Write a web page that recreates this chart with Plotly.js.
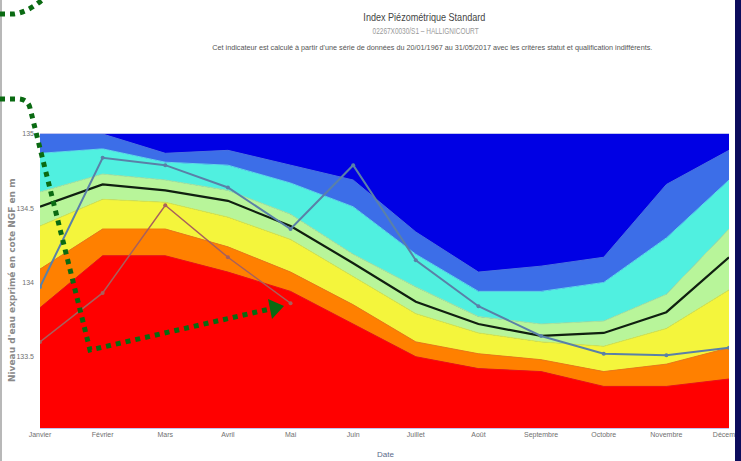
<!DOCTYPE html>
<html>
<head>
<meta charset="utf-8">
<script src="https://cdn.plot.ly/plotly-3.0.1.min.js"></script>
<style>
html,body{margin:0;padding:0;background:#fff;}
#wrap{position:relative;width:741px;height:461px;overflow:hidden;}
#chart{position:absolute;left:0;top:0;width:741px;height:461px;}
#lborder{position:absolute;left:0;top:0;width:2px;height:461px;background:#b8b8b8;}
#rborder{position:absolute;left:735px;top:0;width:6px;height:461px;background:#0c0c5c;}
#overlay{position:absolute;left:0;top:0;}
</style>
</head>
<body>
<div id="wrap">
<div id="chart"></div>
<div id="lborder"></div>
<div id="rborder"></div>
<svg id="overlay" width="741" height="461">
  <path d="M0,14 L14,14 Q28,12 42,0" fill="none" stroke="#0a6a12" stroke-width="5" stroke-dasharray="5,5"/>
  <path d="M0,99 L20,99 Q28,100 30,108 L90,350 L270,309" fill="none" stroke="#0a6a12" stroke-width="5" stroke-dasharray="5,5"/>
  <polygon points="284,306 268,299 272,319" fill="#0a6a12"/>
</svg>
</div>
<script>
const months = ["Janvier","Février","Mars","Avril","Mai","Juin","Juillet","Août","Septembre","Octobre","Novembre","Décembre"];
// band boundaries (level in m NGF)
const bndVeryHigh = [135.10, 135.00, 134.87, 134.89, 134.79, 134.69, 134.34, 134.07, 134.11, 134.17, 134.66, 134.89];
const bndHigh     = [134.87, 134.90, 134.81, 134.79, 134.67, 134.51, 134.19, 133.94, 133.94, 134.00, 134.30, 134.69];
const bndModHigh  = [134.61, 134.73, 134.69, 134.62, 134.46, 134.19, 133.97, 133.77, 133.72, 133.74, 133.92, 134.36];
const median      = [134.51, 134.66, 134.62, 134.55, 134.38, 134.13, 133.87, 133.72, 133.64, 133.66, 133.80, 134.17];
const bndModLow   = [134.38, 134.56, 134.54, 134.44, 134.29, 134.04, 133.79, 133.66, 133.60, 133.57, 133.69, 133.95];
const bndLow      = [134.09, 134.36, 134.36, 134.24, 134.07, 133.85, 133.60, 133.52, 133.48, 133.40, 133.45, 133.56];
const bndVeryLow  = [133.83, 134.18, 134.18, 134.07, 133.94, 133.72, 133.50, 133.42, 133.40, 133.30, 133.30, 133.35];
const level2016   = [133.97, 134.84, 134.79, 134.64, 134.36, 134.79, 134.15, 133.84, 133.64, 133.52, 133.51, 133.56];
const months2017  = ["Janvier","Février","Mars","Avril","Mai"];
const level2017   = [133.60, 133.93, 134.52, 134.17, 133.86];

const colDarkBlue = "#0000e4";
const bands = [
  {y: bndVeryLow, fill: "#ff0000", line: "#f01010", mode: "tozeroy"},
  {y: bndLow,     fill: "#ff8000", line: "#f07a10", mode: "tonexty"},
  {y: bndModLow,  fill: "#f4f53c", line: "#d8e84a", mode: "tonexty"},
  {y: median,     fill: "#b8f59a", line: "#b8f59a", mode: "tonexty"},
  {y: bndModHigh, fill: "#b8f59a", line: "#a8e8a0", mode: "tonexty"},
  {y: bndHigh,    fill: "#50f0e0", line: "#60d8e8", mode: "tonexty"},
  {y: bndVeryHigh,fill: "#3c6ee8", line: "#4a70e0", mode: "tonexty"}
];
const traces = bands.map(b => ({
  x: months, y: b.y, type: "scatter", mode: "lines",
  fill: b.mode, fillcolor: b.fill,
  line: {color: b.line, width: 1}, hoverinfo: "skip", showlegend: false
}));
traces.push({x: months, y: median, type: "scatter", mode: "lines",
  line: {color: "#102010", width: 2.2}, showlegend: false});
traces.push({x: months, y: level2016, type: "scatter", mode: "lines+markers",
  line: {color: "#5a80a8", width: 2}, marker: {size: 4, color: "#5a80a8"}, showlegend: false});
traces.push({x: months2017, y: level2017, type: "scatter", mode: "lines+markers",
  line: {color: "#a8605c", width: 1.5}, marker: {size: 4, color: "#a8605c"}, showlegend: false});

const tickFont = {family: "Liberation Sans, sans-serif", size: 7, color: "#707070"};
const px = v => (v - 40) / 689;
const py = v => (428 - v) / 294;

const layout = {
  width: 741, height: 461,
  margin: {l: 40, r: 12, t: 134, b: 33, pad: 0},
  paper_bgcolor: "#ffffff",
  plot_bgcolor: colDarkBlue,
  showlegend: false,
  xaxis: {
    type: "category", range: [0, 11], showgrid: false, zeroline: false,
    showline: true, mirror: true, linecolor: "#c0c4f0", linewidth: 1,
    ticks: "", tickfont: tickFont, automargin: false
  },
  yaxis: {
    range: [133.02, 135.0], dtick: 0.5, tick0: 133.5, showgrid: false, zeroline: false,
    ticks: "", tickfont: tickFont, ticklabelstandoff: 5, automargin: false
  },
  annotations: [
    {text: "Index Piézométrique Standard", xref: "paper", yref: "paper", x: px(424), y: py(17),
     xanchor: "center", yanchor: "middle", showarrow: false,
     font: {family: "Liberation Sans, sans-serif", size: 11.5, color: "#444444"}},
    {text: "02267X0030/S1 – HALLIGNICOURT", xref: "paper", yref: "paper", x: px(425), y: py(31),
     xanchor: "center", yanchor: "middle", showarrow: false,
     font: {family: "Liberation Sans, sans-serif", size: 8.5, color: "#9a9a9a"}},
    {text: "Cet indicateur est calculé à partir d'une série de données du 20/01/1967 au 31/05/2017 avec les critères statut et qualification indifférents.",
     xref: "paper", yref: "paper", x: px(432), y: py(47),
     xanchor: "center", yanchor: "middle", showarrow: false,
     font: {family: "Liberation Sans, sans-serif", size: 7.5, color: "#555555"}},
    {text: "Niveau d'eau exprimé en cote NGF en m", xref: "paper", yref: "paper", x: px(12), y: py(280),
     xanchor: "center", yanchor: "middle", textangle: -90, showarrow: false,
     font: {family: "DejaVu Sans, sans-serif", size: 9, color: "#8a8a8a", weight: "bold"}},
    {text: "Date", xref: "paper", yref: "paper", x: px(385), y: py(454),
     xanchor: "center", yanchor: "middle", showarrow: false,
     font: {family: "Liberation Sans, sans-serif", size: 8, color: "#5a6a8a"}}
  ]
};
// target widths (px) of the condensed header texts in the reference
const condensedWidths = [122, 106, 440];
Plotly.newPlot("chart", traces, layout, {displayModeBar: false, staticPlot: true}).then(gd => {
  const texts = gd.querySelectorAll(".annotation-text");
  condensedWidths.forEach((w, i) => {
    const t = texts[i];
    if (t) { t.setAttribute("textLength", w); t.setAttribute("lengthAdjust", "spacingAndGlyphs"); }
  });
});
</script>
</body>
</html>
